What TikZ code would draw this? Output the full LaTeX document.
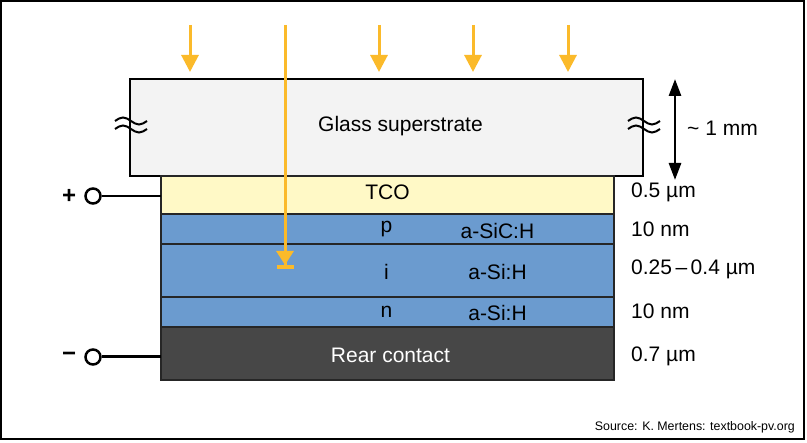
\documentclass[tikz,border=0pt]{standalone}
\usepackage{fontspec}
\setmainfont{Liberation Sans}
\usetikzlibrary{positioning,arrows.meta}
\definecolor{glassgray}{HTML}{F3F3F3}
\definecolor{tcoyellow}{HTML}{FFF9C6}
\definecolor{siblue}{HTML}{6B9BCF}
\definecolor{reargray}{HTML}{474747}
\definecolor{rayyellow}{HTML}{FBBA2A}
\tikzset{
    layer/.style={draw=black!85, line width=2pt, outer sep=0pt, inner sep=0pt, minimum width=453pt},
    lbl/.style={inner sep=0pt, font=\fontsize{21}{25}\selectfont},
    sign/.style={inner sep=0pt, font=\fontsize{24}{28}\selectfont\bfseries},
    ray/.style={rayyellow, line width=3pt, -{Triangle[length=17pt,width=17pt]}},
    wave/.style={line width=2pt},
    terminal/.style={circle, draw, line width=2.5pt, fill=white, minimum size=15pt, inner sep=0pt},
    dimarrow/.style={line width=2.8pt, {Triangle[length=17pt,width=12pt]}-{Triangle[length=17pt,width=12pt]}}
}
\def\CellStack{
    \node[layer, draw=black, line width=1.5pt, fill=glassgray, minimum width=513pt, minimum height=97pt, anchor=north west] (glass) at (130,79) {};
    \node[layer, fill=tcoyellow, minimum height=38pt, anchor=north west] (tco) at (161,176) {};
    \node[layer, fill=siblue, minimum height=30pt, below=0pt of tco] (pl) {};
    \node[layer, fill=siblue, minimum height=53pt, below=0pt of pl] (il) {};
    \node[layer, fill=siblue, minimum height=30pt, below=0pt of il] (nl) {};
    \node[layer, fill=reargray, minimum height=53pt, below=0pt of nl] (rear) {};
}

\begin{document}
\begin{tikzpicture}[x=1pt,y=-1pt]
    \useasboundingbox (0,0) rectangle (807,443);
    \draw[line width=1.5pt] (1,1) rectangle (804,439);
    \CellStack
    % layer labels
    \node[lbl] (glasslbl) at ([xshift=14pt,yshift=1pt]glass.center) {Glass superstrate};
    \node[lbl] (tcolbl) at ([yshift=3pt]tco.center) {TCO};
    \node[lbl] (plbl) at ([xshift=-1pt]pl.center) {p};
    \node[lbl] (pmat) at ([xshift=110pt,yshift=-2pt]pl.center) {a-SiC:H};
    \node[lbl] (ilbl) at ([xshift=-1pt,yshift=-1pt]il.center) {i};
    \node[lbl] (imat) at ([xshift=110pt,yshift=-1pt]il.center) {a-Si:H};
    \node[lbl] (nlbl) at ([xshift=-1pt]nl.center) {n};
    \node[lbl] (nmat) at ([xshift=110pt,yshift=-1pt]nl.center) {a-Si:H};
    \node[lbl, white] (rearlbl) at ([xshift=3pt,yshift=-2pt]rear.center) {Rear contact};
    % thicknesses
    \node[lbl, right=17pt of tco, yshift=3pt] (dtco) {0.5 µm};
    \node[lbl, right=17pt of pl] (dp) {10 nm};
    \node[lbl, right=17pt of il, yshift=1pt] (di) {0.25\,–\,0.4 µm};
    \node[lbl, right=17pt of nl, yshift=1pt] (dn) {10 nm};
    \node[lbl, right=17pt of rear, yshift=-3pt] (drear) {0.7 µm};
    \coordinate (dimtop) at (675,79);
    \coordinate (dimbot) at (675,180);
    \draw[dimarrow] (dimtop) -- (dimbot);
    \node[lbl, anchor=west] (dglass) at (687,128) {\textasciitilde\ 1 mm};
    % glass cut marks
    \foreach \wx in {131,644}
      \foreach \wy in {121,129}
        \draw[wave] ({\wx-16},\wy) sin ({\wx-8},{\wy-3.5}) cos (\wx,\wy) sin ({\wx+8},{\wy+3.5}) cos ({\wx+16},\wy);
    % light
    \foreach \rx/\rn in {190/a,379/b,473/c,568/d}{
      \coordinate (src\rn) at (\rx,25);
      \coordinate (hit\rn) at (\rx,72);
      \draw[ray] (src\rn) -- (hit\rn);
    }
    \coordinate (srclong) at (285,25);
    \coordinate (absorb) at (285,269);
    \draw[ray, -{Triangle[length=14pt,width=17pt]Bar[width=17pt,line width=4pt]}] (srclong) -- (absorb);
    % terminals
    \node[terminal] (plus) at (93,196) {};
    \draw[line width=2pt] (plus) -- (plus -| tco.west);
    \node[sign, left=8pt of plus] (pluslbl) {+};
    \node[terminal] (minus) at (93,357) {};
    \draw[line width=3pt] (minus) -- (minus -| rear.west);
    \node[sign, left=8pt of minus] (minuslbl) {−};
    \node[inner sep=0pt, anchor=east, font=\fontsize{12.4}{15}\selectfont] (source) at (795,427) {Source: K. Mertens: textbook-pv.org};
\end{tikzpicture}
\end{document}
